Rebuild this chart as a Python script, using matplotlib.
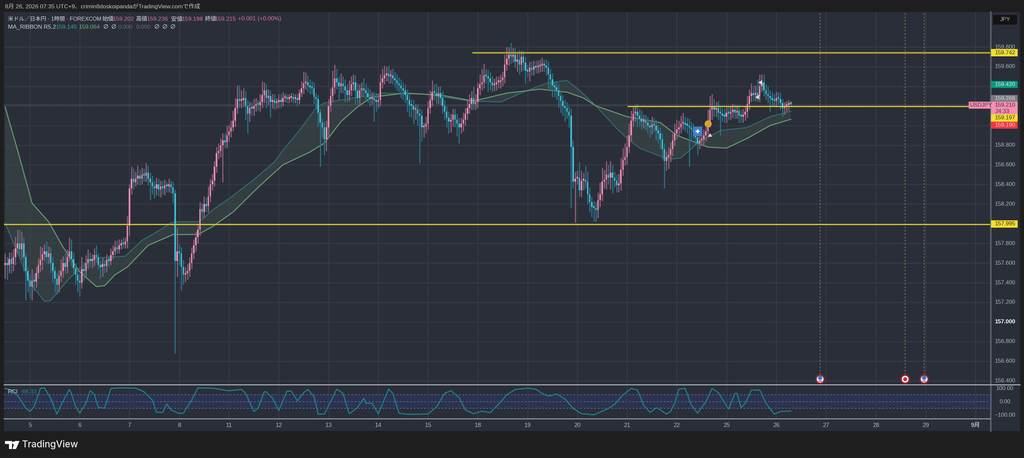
import numpy as np
import matplotlib
matplotlib.use('Agg')
import matplotlib.pyplot as plt
from matplotlib.patches import Rectangle, Polygon
from PIL import Image

plt.rcParams['font.family'] = ['Liberation Sans', 'Noto Sans CJK JP', 'DejaVu Sans']

# hourly closes, one row per session
closes = [
    157.60,157.58,157.64,157.59,157.66,157.75,157.80,157.74,157.80,157.66,157.52,157.42,
    157.36,157.42,157.41,157.50,157.58,157.63,157.69,157.72,157.66,157.70,157.60,157.52,157.44,157.38,157.47,157.52,157.60,157.56,157.66,157.72,157.64,157.55,157.48,157.42,
    157.40,157.54,157.52,157.60,157.64,157.62,157.63,157.68,157.66,157.58,157.56,157.59,157.57,157.63,157.62,157.68,157.72,157.76,157.74,157.78,157.80,157.79,157.82,157.98,
    158.36,158.46,158.42,158.46,158.49,158.46,158.50,158.49,158.52,158.46,158.42,158.38,158.36,158.40,158.35,158.38,158.36,158.39,158.38,158.40,158.37,158.31,157.62,157.72,
    157.70,157.56,157.48,157.50,157.52,157.60,157.70,157.78,157.86,157.94,158.15,158.12,158.20,158.18,158.28,158.40,158.44,158.58,158.72,158.74,158.80,158.85,158.83,158.90,
    158.94,158.98,159.05,159.18,159.27,159.25,159.26,159.28,159.20,159.12,159.18,159.17,159.20,159.22,159.21,159.24,159.31,159.36,159.28,159.30,159.24,159.26,159.23,159.24,
    159.26,159.24,159.28,159.28,159.27,159.28,159.29,159.27,159.28,159.26,159.33,159.38,159.43,159.44,159.41,159.39,159.38,159.29,159.27,159.13,159.03,158.98,158.86,158.98,
    159.20,159.30,159.39,159.48,159.44,159.40,159.43,159.40,159.36,159.31,159.36,159.42,159.44,159.36,159.28,159.36,159.38,159.36,159.33,159.29,159.27,159.28,159.26,159.24,
    159.26,159.44,159.48,159.51,159.53,159.50,159.51,159.48,159.46,159.43,159.41,159.38,159.36,159.31,159.26,159.21,159.20,159.16,159.16,159.12,159.10,158.98,158.99,159.02,
    159.18,159.26,159.34,159.33,159.30,159.33,159.28,159.20,159.14,159.08,159.04,159.06,159.11,159.06,159.02,158.98,159.02,159.06,159.12,159.18,159.22,159.28,159.22,159.24,
    159.38,159.42,159.44,159.51,159.50,159.48,159.44,159.41,159.42,159.44,159.44,159.46,159.49,159.62,159.68,159.72,159.70,159.72,159.65,159.67,159.62,159.70,159.64,159.56,
    159.55,159.59,159.57,159.60,159.59,159.60,159.61,159.63,159.61,159.59,159.52,159.47,159.41,159.39,159.36,159.30,159.25,159.20,159.18,159.14,159.10,158.78,158.43,158.46,
    158.47,158.34,158.44,158.45,158.43,158.30,158.22,158.17,158.16,158.14,158.24,158.30,158.43,158.45,158.50,158.47,158.52,158.47,158.44,158.39,158.41,158.55,158.65,158.68,
    158.78,158.90,159.05,159.12,159.14,159.10,159.07,159.04,159.05,159.03,159.00,158.98,159.01,159.00,158.95,158.92,158.86,158.76,158.64,158.68,158.70,158.76,158.85,158.92,
    158.96,158.98,159.02,159.03,159.01,159.00,158.98,158.96,158.93,158.88,158.82,158.85,158.86,158.90,158.94,159.04,159.16,159.20,159.16,159.18,159.13,159.12,159.10,159.09,
    159.13,159.12,159.14,159.16,159.13,159.15,159.10,159.09,159.11,159.14,159.22,159.30,159.33,159.31,159.33,159.30,159.40,159.44,159.36,159.32,159.30,159.28,159.26,159.25,
    159.28,159.27,159.23,159.18,159.20,159.21,159.22,159.215,
]
# wick lengths above / below the body, in 0.01 yen
upper_wick = [
    10,6,7,7,8,12,14,14,12,6,4,4,
    6,12,7,6,7,14,7,7,10,7,6,6,4,6,6,12,7,10,8,14,12,7,4,6,
    7,12,7,8,10,7,6,7,10,4,4,6,4,6,4,7,6,7,7,6,4,6,4,10,
    4,12,10,7,10,6,7,6,10,7,6,7,6,7,6,6,6,6,4,6,4,6,4,24,
    7,6,7,6,7,6,6,6,6,6,7,6,8,7,10,6,7,6,6,8,7,7,7,10,
    7,7,10,10,14,14,10,10,7,6,6,6,7,6,4,8,14,8,6,7,6,6,6,4,
    6,6,6,4,4,4,4,4,4,4,4,7,12,10,7,6,6,6,4,4,4,4,6,7,
    7,8,17,14,10,6,10,7,7,6,10,8,8,7,7,6,6,10,7,6,8,6,6,7,
    6,8,10,10,7,8,6,7,7,6,6,6,6,6,6,6,6,6,6,6,6,6,4,7,
    7,10,12,8,10,7,7,7,6,6,6,6,6,6,6,6,6,7,6,7,10,7,12,8,
    6,10,14,12,7,7,6,6,6,6,6,6,6,10,12,8,12,7,7,7,10,6,6,6,
    6,6,6,6,6,6,6,6,4,6,6,6,6,4,6,6,6,6,6,6,6,7,7,7,
    7,16,10,7,14,10,7,6,6,6,8,12,14,10,14,10,12,8,6,6,10,12,12,14,
    12,12,10,7,7,8,7,8,6,6,6,6,8,7,6,6,6,6,6,6,8,7,7,10,
    10,7,8,10,6,7,7,6,6,6,6,7,6,6,8,12,14,12,7,6,7,6,6,7,
    6,6,6,6,6,6,6,6,6,6,8,7,10,8,8,14,12,8,8,6,8,6,6,6,
    6,6,6,4,4,4,4,3,
]
lower_wick = [
    14,15,8,10,7,8,6,7,10,14,30,12,
    12,14,10,6,6,7,10,7,7,7,10,12,14,10,8,6,7,7,6,4,7,7,10,12,
    14,6,10,6,6,6,7,6,6,4,12,10,7,6,6,4,4,4,4,4,4,4,4,7,
    10,6,7,4,6,7,6,6,6,7,18,8,10,7,7,8,6,7,6,6,6,10,94,16,
    12,24,10,7,7,6,6,6,6,6,6,6,6,6,6,6,6,6,6,6,6,38,6,6,
    6,6,4,6,6,7,7,7,14,20,8,7,7,6,6,7,6,8,10,7,16,7,7,6,
    6,6,4,4,4,4,4,4,4,6,4,4,6,6,7,7,6,7,10,14,45,10,16,12,
    10,6,6,7,7,14,7,7,12,7,6,6,7,14,7,7,6,6,7,6,7,6,22,10,
    6,6,6,6,6,7,7,6,7,7,7,10,10,8,12,12,12,14,10,12,48,14,10,7,
    6,6,6,7,8,8,7,8,8,10,12,11,7,8,13,16,6,8,6,6,6,6,6,6,
    6,7,6,6,7,14,8,7,6,6,6,6,6,6,6,7,7,6,6,10,10,7,8,13,
    6,10,6,6,6,6,6,6,6,8,14,12,12,10,10,12,12,10,14,7,12,62,7,42,
    6,6,7,10,7,10,10,10,14,12,8,7,7,7,10,7,12,16,7,7,7,7,6,6,
    8,6,6,6,8,12,8,8,7,8,8,10,7,7,10,10,10,10,28,10,12,7,7,6,
    6,6,6,6,7,8,40,12,7,8,12,6,6,6,6,6,6,10,7,7,7,22,6,6,
    6,6,6,6,6,6,7,6,6,6,6,6,6,6,6,6,6,6,6,6,7,14,6,6,
    6,6,7,9,7,6,6,2,
]

# MA ribbon, (bar, price)
fast_bars = [0,12,19,22,30,36,43,58,66,75,80,83,93,96,100,109,120,130,134,142,150,154,162,171,182,202,224,239,250,261,271,277,285,295,300,306,317,322,326,334,345,358,369,379]
fast_vals = [158.01,157.40,157.21,157.22,157.42,157.55,157.65,157.67,157.83,157.94,158.01,158.02,158.02,158.06,158.14,158.27,158.45,158.63,158.75,158.95,159.18,159.23,159.26,159.29,159.33,159.32,159.25,159.24,159.34,159.43,159.46,159.36,159.20,158.97,158.87,158.77,158.68,158.66,158.67,158.82,158.95,158.98,159.09,159.145]
slow_bars = [0,6,13,21,28,36,44,48,53,59,69,81,93,100,110,122,134,147,154,162,170,177,193,210,226,242,258,271,279,285,300,316,324,339,348,358,369,379]
slow_vals = [159.19,158.75,158.21,158.02,157.76,157.51,157.36,157.37,157.48,157.56,157.78,157.89,157.89,157.97,158.12,158.37,158.60,158.73,158.82,159.04,159.19,159.29,159.33,159.31,159.25,159.33,159.37,159.34,159.28,159.20,159.09,159.03,158.90,158.78,158.77,158.87,159.00,159.064]

# RCI pane, (bar, value)
rci_bars = [0,4,7,10,12,14,17,19,22,25,27,31,32,34,36,39,41,43,45,48,51,55,63,67,71,73,76,78,80,84,86,90,93,100,108,114,116,120,122,125,126,129,132,136,138,141,144,146,149,151,154,160,163,166,170,173,174,177,180,185,187,190,194,198,204,208,212,215,219,222,226,230,234,238,242,246,252,256,259,262,266,270,274,278,284,288,291,294,298,302,305,308,311,314,315,319,321,323,325,328,331,334,338,341,344,349,352,353,355,357,360,364,367,371,374,379]
rci_vals = [96,79,24,-48,-72,-36,96,100,24,-91,-24,89,60,-36,-84,-12,79,55,-43,-48,96,100,98,72,12,-77,-79,-17,-60,-86,-84,12,100,98,79,89,60,-72,-48,72,70,24,-65,77,77,5,65,89,36,-91,-91,91,60,-89,-43,24,-12,-12,-89,91,60,-84,-92,-92,-90,-40,60,80,30,-60,-88,-70,-80,-20,50,88,98,90,60,40,55,20,-50,-88,-96,-70,-50,-20,48,96,84,-24,-79,-46,-50,-91,-72,-12,91,96,-24,-84,0,96,65,-55,60,60,-43,-12,84,84,-12,-91,-72,-68.33]

day_labels = ['5','6','7','8','11','12','13','14','15','18','19','20','21','22','25','26','27','28','29','9月']
day_bars = [12 + 24 * k for k in range(len(day_labels))]

event_bars = [393.1, 434.1, 443.3]
price_ticks = [159.8,159.6,159.4,159.2,159.0,158.8,158.6,158.4,158.2,158.0,157.8,157.6,157.4,157.2,157.0,156.8,156.6,156.4]
price_labels = ['159.800','159.600','','','','158.800','158.600','158.400','158.200','','157.800','157.600','157.400','157.200','157.000','156.800','156.600','156.400']

W, H = 1024, 458
BG = '#1e1e1e'
PANE = '#2a2e39'
GRID = '#363a45'
TXT = '#b2b5be'
PINK = '#ee8db0'
CYAN = '#3cc0d8'
YELLOW = '#e2d02c'

closes = np.array(closes)
opens = np.r_[closes[0] - 0.02, closes[:-1]]
top = np.maximum(opens, closes)
bot = np.minimum(opens, closes)
highs = top + np.array(upper_wick) / 100
lows = bot - np.array(lower_wick) / 100
bars = np.arange(len(closes))
up = closes >= opens

fig = plt.figure(figsize=(W / 100, H / 100), dpi=100, facecolor=BG)

# strips behind the panes
bg = fig.add_axes([0, 0, 1, 1], facecolor='none')
bg.set_xlim(0, W)
bg.set_ylim(H, 0)
bg.axis('off')
bg.add_patch(Rectangle((990.5, 12), 29.5, 419, color=PANE, lw=0))
bg.add_patch(Rectangle((4, 418.5), 986.5, 12.5, color=PANE, lw=0))

def pane(l, t, r, b):
    return fig.add_axes([l / W, 1 - b / H, (r - l) / W, (b - t) / H], facecolor=PANE)

ax = pane(4, 12, 990.5, 384.5)
ax.set_xlim(-0.53, 475.3)
ax.set_ylim(156.363, 160.156)
ax.set_xticks(day_bars)
ax.set_yticks(price_ticks)
ax.set_xticklabels([])
ax.set_yticklabels([])
ax.grid(True, color=GRID, lw=0.7)
ax.set_axisbelow(True)
ax.tick_params(length=0)
for s in ax.spines.values():
    s.set_visible(False)

# ribbon
ax.fill(np.r_[fast_bars, slow_bars[::-1]], np.r_[fast_vals, slow_vals[::-1]], color='#3d4b48', alpha=0.55, lw=0, zorder=1.5)
ax.plot(fast_bars, fast_vals, color='#2f6a6c', lw=0.75, zorder=2)
ax.plot(slow_bars, slow_vals, color='#639a70', lw=0.75, zorder=2)

ax.axhline(159.21, color='#787b86', lw=0.5, ls=(0, (1, 1.5)), zorder=1.8)

# candles
wick_cols = ['#93607c' if u else '#2a7385' for u in up]
body_cols = [PINK if u else CYAN for u in up]
ax.vlines(bars, lows, highs, colors=wick_cols, lw=0.8, zorder=3)
ax.bar(bars, np.maximum(top - bot, 0.02), bottom=bot, width=0.72, color=body_cols, lw=0, zorder=4)

# levels
ax.axhline(157.995, color=YELLOW, lw=0.8, zorder=5)
ax.plot([225.7, 475.3], [159.742, 159.742], color='#b8aa30', lw=1.1, zorder=5)
ax.plot([300.5, 475.3], [159.197, 159.197], color=YELLOW, lw=0.8, zorder=5)

for b in event_bars:
    ax.axvline(b, color='#8a6a48', lw=0.6, ls=(0, (2, 2)), zorder=1.8)

# event badges
ev_y = 156.42
ax.scatter(event_bars, [ev_y] * 3, s=50, color='#8c2434', lw=0, zorder=6)
ax.scatter(event_bars, [ev_y] * 3, s=24, color='#f4f4f4', lw=0, zorder=7)
ax.scatter([event_bars[1]], [ev_y], s=8, color='#d8243a', lw=0, zorder=8)
ax.scatter([event_bars[0], event_bars[2]], [ev_y + 0.012] * 2, s=10, color='#3b78d8', lw=0, zorder=8)
ax.scatter([event_bars[0], event_bars[2]], [ev_y - 0.022] * 2, s=6, color='#d8506a', marker='_', lw=0.8, zorder=8)

# trade markers
ax.scatter([334], [158.94], s=45, marker='s', color='#3d7fd0', lw=0, zorder=7)
ax.scatter([334], [158.94], s=8, marker='P', color='white', lw=0, zorder=8)
ax.scatter([339], [159.02], s=26, marker='o', color='#d8a22c', lw=0, zorder=7)
ax.scatter([340], [158.90], s=12, marker=(3, 0, 0), color='#f0c8d4', lw=0, zorder=7)
ax.scatter([363, 364.5], [159.29, 159.44], s=16, marker=(3, 0, -30), color='#cfd8d2', lw=0, zorder=7)

# RCI pane
rc = pane(4, 385, 990.5, 418.5)
rc.set_xlim(-0.53, 475.3)
rc.set_ylim(-123, 121)
rc.axhspan(-50, 50, color='#2b3350', lw=0, zorder=0.5)
rc.set_xticks(day_bars)
rc.set_xticklabels(day_labels, fontsize=4.3, color=TXT)
rc.set_yticks([-100, 0, 100])
rc.set_yticklabels([])
rc.grid(True, axis='x', color=GRID, lw=0.7)
rc.tick_params(length=0, pad=3)
rc.get_xticklabels()[-1].set_fontweight('bold')
for v in [-50, 0, 50]:
    rc.axhline(v, color='#6a6e7c', lw=0.5, ls=(0, (2.5, 2.5)), zorder=1)
rc.plot(rci_bars, rci_vals, color='#1d7f8e', lw=0.8, zorder=3)
for s in rc.spines.values():
    s.set_visible(False)

# overlay in pixel coordinates for scale tags and captions
ov = fig.add_axes([0, 0, 1, 1], facecolor='none')
ov.set_xlim(0, W)
ov.set_ylim(H, 0)
ov.axis('off')
ov.plot([990.7, 990.7], [12, 431], color='#5d606b', lw=1.1)
ov.plot([4, 1020], [384.6, 384.6], color='#b4b7be', lw=0.7)
ov.plot([4, 990], [418.6, 418.6], color='#8d909a', lw=0.8)

num = dict(fontsize=4.1, va='center')
for p, lab in zip(price_ticks, price_labels):
    if lab:
        y = 47 + (159.8 - p) * 98.2
        ov.text(995, y, lab, color='white' if lab == '157.000' else TXT,
                fontweight='bold' if lab == '157.000' else 'normal', **num)
for y, lab in [(388.5, '100.00'), (401.7, '0.00'), (415, '−100.00')]:
    ov.text(1005, y, lab, color=TXT, ha='center', **num)

tags = [
    (52.7, '159.742', '#f2df2e', '#333333'),
    (84.5, '159.420', '#089981', '#d8efe8'),
    (98.5, '159.268', '#787b86', '#d8d8d8'),
    (105.2, '159.210', '#f48fb1', '#54303e'),
    (111.5, '24:33', '#f48fb1', '#54303e'),
    (118, '159.197', '#f2df2e', '#333333'),
    (125.2, '159.190', '#f23645', '#f6d0d4'),
    (224, '157.995', '#f2df2e', '#333333'),
]
for y, lab, fc, tc in tags:
    ov.add_patch(Rectangle((991, y - 3.6), 26.5, 7.2, color=fc, lw=0, zorder=3))
    ov.text(995, y, lab, color=tc, zorder=4, **num)
ov.add_patch(Rectangle((968.5, 101.5), 22, 7, color='#f48fb1', lw=0, zorder=3))
ov.text(970, 105, 'USDJPY', color='#54303e', zorder=4, **num)
ov.add_patch(Rectangle((993, 15), 24, 9.5, color='#131313', lw=0, zorder=3))
ov.text(1005, 19.6, 'JPY', color=TXT, ha='center', zorder=4, **num)

cap = dict(fontsize=4.2, va='center')
ov.text(5, 6.3, '8月 26, 2026 07:35 UTC+9、crimin8doskoipandaがTradingView.comで作成', color='#c8c8c8', **cap)
ov.text(8, 19, '米ドル／日本円 · 1時間 · FOREXCOM', color='#d8d9de', fontsize=3.95, va='center')
VAL = '#d9779a'
for x, lab, c in [(102, '始値', '#d8d9de'), (113, '159.202', VAL), (136, '高値', '#d8d9de'), (147, '159.236', VAL),
                  (171, '安値', '#d8d9de'), (182, '159.198', VAL), (205, '終値', '#d8d9de'), (215, '159.215', VAL),
                  (238, '+0.001 (+0.00%)', VAL)]:
    ov.text(x, 19, lab, color=c, **cap)
for x, lab, c in [(8, 'MA_RIBBON R5.2', '#d8d9de'), (56, '159.145', '#2ba9a0'), (79, '159.064', '#6fb585'),
                  (103, '∅', '#d8d9de'), (111, '∅', '#d8d9de'), (118, '0.000', '#6a6d78'), (136, '0.000', '#6a6d78'),
                  (154, '∅', '#d8d9de'), (162, '∅', '#d8d9de'), (170, '∅', '#d8d9de')]:
    ov.text(x, 27, lab, color=c, **cap)
ov.text(8, 392, 'RCI', color='#d8d9de', **cap)
ov.text(20, 392, '-68.33', color='#1d8f9e', **cap)

# logo
ov.add_patch(Polygon([(5, 441), (12, 441), (12, 449), (9, 449), (9, 444), (5, 444)], color='white', lw=0))
ov.add_patch(Polygon([(15, 441), (19.5, 441), (16, 449), (12.5, 449)], color='white', lw=0))
ov.scatter([13.2], [442.5], s=4, color='white', lw=0)
ov.text(22, 444.8, 'TradingView', color='#e8e8e8', fontsize=6.7, va='center', fontweight='medium',
        family=['Inter', 'DejaVu Sans'])

# render large and shrink, the reference is a scaled-down screenshot
fig.savefig('out.png', dpi=300, facecolor=BG)
plt.close('all')
Image.open('out.png').convert('RGB').resize((W, H), Image.LANCZOS).save('out.png')
